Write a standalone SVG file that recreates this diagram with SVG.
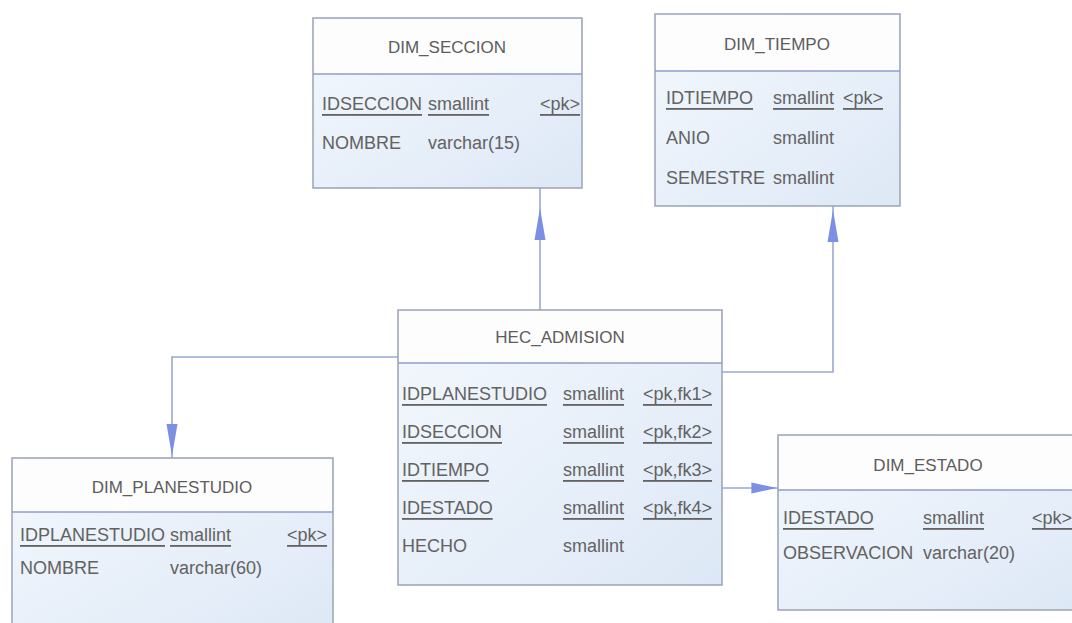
<svg xmlns="http://www.w3.org/2000/svg" width="1072" height="623" viewBox="0 0 1072 623">
<defs>
<linearGradient id="bg" x1="0" y1="0" x2="1" y2="1">
<stop offset="0" stop-color="#f4f8fd"/>
<stop offset="1" stop-color="#dde8f6"/>
</linearGradient>
<path id="ah" d="M0,0 L-5.5,32 L5.5,32 Z"/>
</defs>
<style>
.box{fill:url(#bg);stroke:#9aa3b8;stroke-width:1.5}
.hdr{fill:#fdfdfe;stroke:none}
.div{stroke:#8f9dcc;stroke-width:1.5}
.ttl{font-family:"Liberation Sans",Arial,sans-serif;font-size:17px;fill:#5c5c5c;text-anchor:middle;dominant-baseline:central}
.t{font-family:"Liberation Sans",Arial,sans-serif;font-size:18px;fill:#626262;dominant-baseline:central}
.u{text-decoration:underline;text-decoration-thickness:2px}
.c{stroke:#9aa8d6;stroke-width:1.6;fill:none}
.a{fill:#7b8fe3}
</style>
<rect width="1072" height="623" fill="#ffffff"/>
<g id="connectors">
<path class="c" d="M540,310 V188"/>
<use href="#ah" class="a" x="540" y="208"/>
<path class="c" d="M722,372 H833 V206"/>
<use href="#ah" class="a" x="833" y="210"/>
<path class="c" d="M398,357 H172 V458"/>
<use href="#ah" class="a" transform="translate(172,456) rotate(180)"/>
<path class="c" d="M722,488 H778"/>
<use href="#ah" class="a" transform="translate(777,488) rotate(90) scale(1,0.8)"/>
</g>
<g id="DIM_SECCION">
<rect class="box" x="313" y="18" width="269" height="170"/>
<rect class="hdr" x="314" y="19" width="267" height="55"/>
<line class="div" x1="313" y1="74" x2="582" y2="74"/>
<text class="ttl" x="447" y="47">DIM_SECCION</text>
<text class="t u" x="322" y="104">IDSECCION</text>
<text class="t u" x="428" y="104">smallint</text>
<text class="t u" x="540" y="104">&lt;pk&gt;</text>
<text class="t" x="322" y="143">NOMBRE</text>
<text class="t" x="428" y="143">varchar(15)</text>
</g>
<g id="DIM_TIEMPO">
<rect class="box" x="655" y="14" width="245" height="192"/>
<rect class="hdr" x="656" y="15" width="243" height="56"/>
<line class="div" x1="655" y1="71" x2="900" y2="71"/>
<text class="ttl" x="777" y="44">DIM_TIEMPO</text>
<text class="t u" x="666" y="98">IDTIEMPO</text>
<text class="t u" x="773" y="98">smallint</text>
<text class="t u" x="843" y="98">&lt;pk&gt;</text>
<text class="t" x="666" y="138">ANIO</text>
<text class="t" x="773" y="138">smallint</text>
<text class="t" x="666" y="178">SEMESTRE</text>
<text class="t" x="773" y="178">smallint</text>
</g>
<g id="HEC_ADMISION">
<rect class="box" x="398" y="310" width="324" height="275"/>
<rect class="hdr" x="399" y="311" width="322" height="52"/>
<line class="div" x1="398" y1="363" x2="722" y2="363"/>
<text class="ttl" x="560" y="337">HEC_ADMISION</text>
<text class="t u" x="402" y="394">IDPLANESTUDIO</text>
<text class="t u" x="563" y="394">smallint</text>
<text class="t u" x="643" y="394">&lt;pk,fk1&gt;</text>
<text class="t u" x="402" y="432">IDSECCION</text>
<text class="t u" x="563" y="432">smallint</text>
<text class="t u" x="643" y="432">&lt;pk,fk2&gt;</text>
<text class="t u" x="402" y="470">IDTIEMPO</text>
<text class="t u" x="563" y="470">smallint</text>
<text class="t u" x="643" y="470">&lt;pk,fk3&gt;</text>
<text class="t u" x="402" y="508">IDESTADO</text>
<text class="t u" x="563" y="508">smallint</text>
<text class="t u" x="643" y="508">&lt;pk,fk4&gt;</text>
<text class="t" x="402" y="546">HECHO</text>
<text class="t" x="563" y="546">smallint</text>
</g>
<g id="DIM_PLANESTUDIO">
<rect class="box" x="12" y="458" width="321" height="180"/>
<rect class="hdr" x="13" y="459" width="319" height="53"/>
<line class="div" x1="12" y1="512" x2="333" y2="512"/>
<text class="ttl" x="172" y="487">DIM_PLANESTUDIO</text>
<text class="t u" x="20" y="535">IDPLANESTUDIO</text>
<text class="t u" x="170" y="535">smallint</text>
<text class="t u" x="287" y="535">&lt;pk&gt;</text>
<text class="t" x="20" y="568">NOMBRE</text>
<text class="t" x="170" y="568">varchar(60)</text>
</g>
<g id="DIM_ESTADO">
<rect class="box" x="778" y="435" width="300" height="175"/>
<rect class="hdr" x="779" y="436" width="298" height="54"/>
<line class="div" x1="778" y1="490" x2="1078" y2="490"/>
<text class="ttl" x="928" y="465">DIM_ESTADO</text>
<text class="t u" x="783" y="518">IDESTADO</text>
<text class="t u" x="923" y="518">smallint</text>
<text class="t u" x="1032" y="518">&lt;pk&gt;</text>
<text class="t" x="783" y="553">OBSERVACION</text>
<text class="t" x="923" y="553">varchar(20)</text>
</g>
</svg>
